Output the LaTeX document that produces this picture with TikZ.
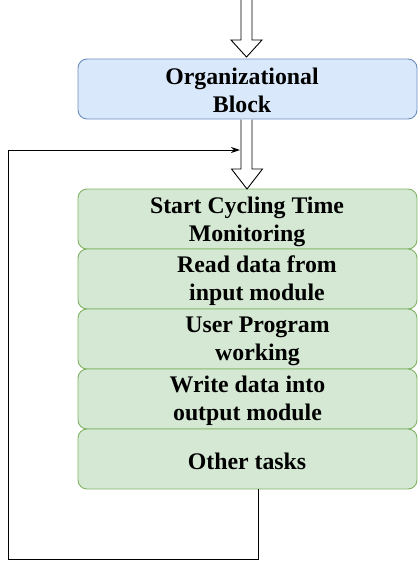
\documentclass[tikz,border=0pt]{standalone}
\usepackage{fontspec}
\setmainfont{Liberation Serif}
\usetikzlibrary{arrows.meta,calc}
\definecolor{blueFill}{HTML}{DAE8FC}
\definecolor{blueLine}{HTML}{6C8EBF}
\definecolor{greenFill}{HTML}{D5E8D4}
\definecolor{greenLine}{HTML}{82B366}
\tikzset{
  box/.style={draw, rounded corners=9pt, line width=0.9pt, minimum width=339pt, minimum height=60pt, inner sep=0pt},
  bluebox/.style={box, fill=blueFill, draw=blueLine},
  greenbox/.style={box, fill=greenFill, draw=greenLine},
  label/.style={font=\bfseries\fontsize{23.8pt}{28pt}\selectfont, align=center, inner sep=0pt},
  hollow/.style={draw=black, fill=white, line width=0.9pt, line join=miter},
  flow/.style={draw=black, line width=1pt, -{Stealth[length=9pt,width=6pt]}}
}
\begin{document}
\begin{tikzpicture}[x=1pt,y=-1pt]
\useasboundingbox (0,0) rectangle (419,562);
\node[bluebox] (org) at (247.5,89) {};
\node[label] (orgt) at (242,90) {Organizational\\Block};
\node[greenbox] (s1) at (247.5,219) {};
\node[label] (s1t) at (247,221.5) {Start Cycling Time\\Monitoring};
\node[greenbox] (s2) at (247.5,279) {};
\node[label] (s2t) at (257,281) {Read data from\\input module};
\node[greenbox] (s3) at (247.5,339) {};
\node[label] (s3t) at (257.5,341) {User Program\\working};
\node[greenbox] (s4) at (247.5,399) {};
\node[label] (s4t) at (247.5,401) {Write data into\\output module};
\node[greenbox] (s5) at (247.5,459) {};
\node[label] (s5t) at (247,461) {Other tasks};
% hollow arrow into org block
\path[hollow] (241,-2) -- (241,40) -- (231,40) -- (246.5,57) -- (262,40) -- (252,40) -- (252,-2);
% hollow arrow from org to s1
\path[hollow] (241,119.5) -- (241,169) -- (231.5,169) -- (247,189) -- (262.5,169) -- (252,169) -- (252,119.5);
% feedback loop
\coordinate (loopbr) at (258,559);
\coordinate (loopend) at (240,150);
\draw[flow] ($(s5.south)+(10.5,0)$) -- (loopbr) -- (8,559) -- (8,150) -- (loopend);
\end{tikzpicture}
\end{document}
